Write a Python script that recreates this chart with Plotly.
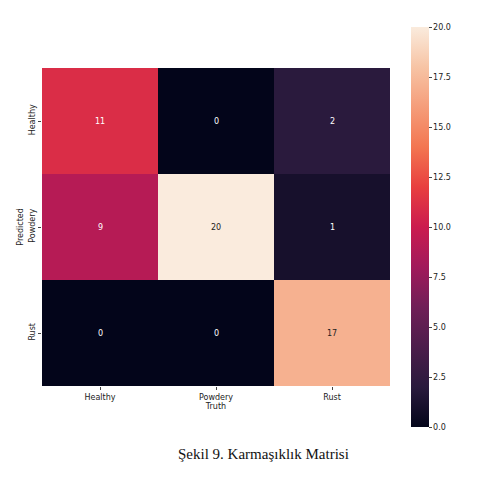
import plotly.graph_objects as go

labels = ["Healthy", "Powdery", "Rust"]
# rows = predicted, columns = truth
matrix = [
    [11, 0, 2],
    [9, 20, 1],
    [0, 0, 17],
]

rocket = [
    [0.0, "#03051A"], [0.1, "#2A1A3D"], [0.2, "#4C1D4B"], [0.3, "#701F57"],
    [0.4, "#A11A5B"], [0.5, "#CB1B4F"], [0.6, "#E83F3F"], [0.7, "#F37651"],
    [0.8, "#F59D7A"], [0.9, "#F7C4A5"], [1.0, "#FAEBDD"],
]

fig = go.Figure(go.Heatmap(
    z=matrix, x=labels, y=labels, zmin=0, zmax=20, colorscale=rocket,
    colorbar=dict(x=1.031, xanchor="left", y=0.5, yanchor="middle",
                  thickness=18, lenmode="pixels", len=420,
                  tickvals=[0, 2.5, 5, 7.5, 10, 12.5, 15, 17.5, 20],
                  tickformat=".1f", ticks="outside", ticklen=3,
                  outlinewidth=0, tickfont=dict(size=8, color="#222")),
))

for i, row in enumerate(matrix):
    for j, v in enumerate(row):
        fig.add_annotation(x=labels[j], y=labels[i], text=str(v), showarrow=False,
                           font=dict(size=8, color="#222" if v >= 15 else "white"))

fig.add_annotation(text="Şekil 9. Karmaşıklık Matrisi", xref="paper", yref="paper",
                   x=0.636, y=-0.245, showarrow=False,
                   font=dict(family="Liberation Serif", size=15, color="#111"))

fig.update_xaxes(title=dict(text="Truth", font=dict(size=8), standoff=2),
                 tickfont=dict(size=8, color="#222"), ticks="outside", ticklen=3)
fig.update_yaxes(autorange="reversed", tickangle=-90,
                 title=dict(text="Predicted", font=dict(size=8), standoff=2),
                 tickfont=dict(size=8, color="#222"), ticks="outside", ticklen=3)

fig.update_layout(width=497, height=478, margin=dict(l=30, r=115, t=52, b=100),
                  plot_bgcolor="white", paper_bgcolor="white",
                  font=dict(family="DejaVu Sans", color="#222"))
fig.write_html("out.html")
